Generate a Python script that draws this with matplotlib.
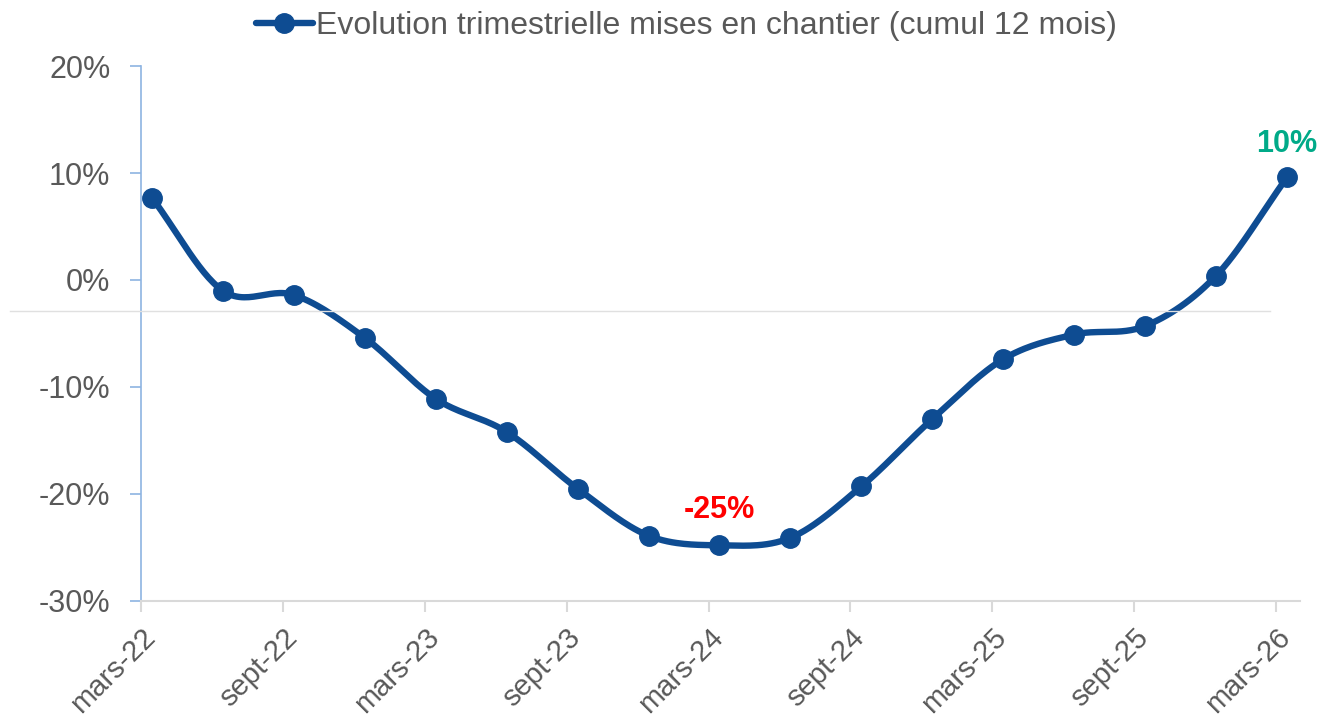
import numpy as np
import matplotlib.pyplot as plt
from matplotlib.lines import Line2D

plt.rcParams['font.family'] = ['Liberation Sans', 'DejaVu Sans']

# Quarterly points, mars-22 .. mars-26 (months since mars-22)
months = [0, 3, 6, 9, 12, 15, 18, 21, 24, 27, 30, 33, 36, 39, 42, 45, 48]
values = [7.7, -1.0, -1.4, -5.4, -11.1, -14.2, -19.5, -23.9, -24.8, -24.1,
          -19.3, -13.0, -7.4, -5.1, -4.3, 0.4, 9.6]
tick_months = [0, 6, 12, 18, 24, 30, 36, 42, 48]
tick_labels = ["mars-22", "sept-22", "mars-23", "sept-23", "mars-24",
               "sept-24", "mars-25", "sept-25", "mars-26"]
yticks = [-30, -20, -10, 0, 10, 20]
series_name = "Evolution trimestrielle mises en chantier (cumul 12 mois)"

BLUE = "#0E4C92"
GREY_TXT = "#595959"

# points sit mid-month on the date axis
x = np.array(months) + 0.46
y = np.array(values) / 100


def smooth(xs, ys, n=30):
    # Catmull-Rom style smoothing, similar to Excel "smoothed line"
    px = np.concatenate([[2 * xs[0] - xs[1]], xs, [2 * xs[-1] - xs[-2]]])
    py = np.concatenate([[2 * ys[0] - ys[1]], ys, [2 * ys[-1] - ys[-2]]])
    ox, oy = [], []
    t = np.linspace(0, 1, n, endpoint=False)
    for i in range(1, len(px) - 2):
        for p, o in ((px, ox), (py, oy)):
            p0, p1, p2, p3 = p[i - 1], p[i], p[i + 1], p[i + 2]
            o.extend(0.5 * (2 * p1 + (-p0 + p2) * t
                            + (2 * p0 - 5 * p1 + 4 * p2 - p3) * t ** 2
                            + (-p0 + 3 * p1 - 3 * p2 + p3) * t ** 3))
    ox.append(xs[-1])
    oy.append(ys[-1])
    return np.array(ox), np.array(oy)


fig = plt.figure(figsize=(13.25, 7.24), dpi=100)
ax = fig.add_axes([0.1064, 0.170, 0.8746, 0.7388])

sx, sy = smooth(x, y)
ax.plot(sx, sy, color=BLUE, lw=4.6, solid_capstyle="round", zorder=3)
ax.plot(x, y, "o", color=BLUE, ms=14, zorder=4)

ax.set_xlim(0, 49)
ax.set_ylim(-0.30, 0.20)
ax.set_yticks(np.array(yticks) / 100)
ax.set_yticklabels([f"{v}%" for v in yticks])
ax.set_xticks(tick_months)
ax.set_xticklabels(tick_labels, rotation=45, ha="right", rotation_mode="anchor")

for s in ("top", "right"):
    ax.spines[s].set_visible(False)
ax.spines["left"].set_color("#8DB4E2")
ax.spines["left"].set_linewidth(1.2)
ax.spines["bottom"].set_color("#D9D9D9")
ax.spines["bottom"].set_linewidth(1.5)
ax.tick_params(axis="y", colors="#8DB4E2", length=8, width=1.2, labelsize=22,
               labelcolor=GREY_TXT, pad=14)
ax.tick_params(axis="x", colors="#D9D9D9", length=8, width=1.5, labelsize=21,
               labelcolor=GREY_TXT, pad=8)

# light horizontal line across the plot
fig.add_artist(Line2D([10 / 1325, 1270 / 1325], [1 - 311 / 724] * 2,
                      color="#E0E0E0", lw=1))

# value labels
ax.text(x[8], y[8] + 0.033, "-25%", color="#FF0000", fontsize=22,
        fontweight="bold", ha="center", va="center")
ax.text(x[-1], y[-1] + 0.031, "10%", color="#00AA88", fontsize=22,
        fontweight="bold", ha="center", va="center")

handle = Line2D([], [], color=BLUE, lw=4.6, marker="o", ms=14,
                solid_capstyle="round")
fig.legend([handle], [series_name], loc="upper center",
           bbox_to_anchor=(0.518, 1.024), frameon=False, fontsize=23,
           handlelength=1.8, handletextpad=0.1, labelcolor=GREY_TXT)

fig.savefig("out.png", dpi=100)
